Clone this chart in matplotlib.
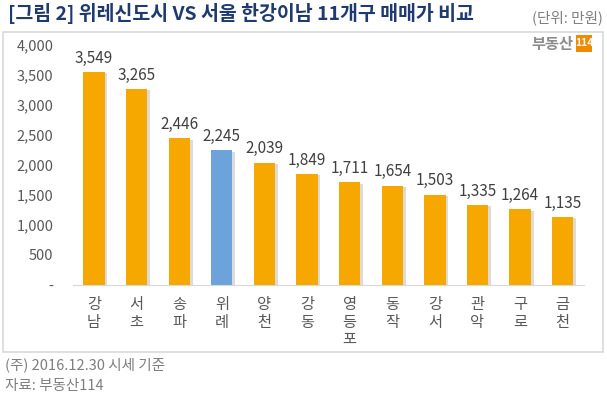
import matplotlib
matplotlib.use("Agg")
import matplotlib.pyplot as plt
from matplotlib.patches import Rectangle
from matplotlib.ticker import FuncFormatter
import matplotlib.patheffects as pe

plt.rcParams['font.family'] = ['Noto Sans CJK KR', 'DejaVu Sans']

districts = ["강남", "서초", "송파", "위례", "양천", "강동", "영등포", "동작", "강서", "관악", "구로", "금천"]
prices = [3549, 3265, 2446, 2245, 2039, 1849, 1711, 1654, 1503, 1335, 1264, 1135]
highlight = "위례"
yticks = [0, 500, 1000, 1500, 2000, 2500, 3000, 3500, 4000]

ORANGE, BLUE = "#F7A800", "#6CA3DA"
GRAY, DARK, NAVY = "#7F7F7F", "#404040", "#1F3A6E"

W, H = 607, 398
fig = plt.figure(figsize=(W / 100, H / 100), dpi=100)
fig.patch.set_facecolor("white")

# outer chart box
fig.add_artist(Rectangle((3 / W, 1 - 352 / H), 600 / W, 320 / H, transform=fig.transFigure,
                         fill=False, edgecolor="#D9D9D9", linewidth=1.2))

ax = fig.add_axes([72.7 / W, 1 - 285 / H, (584 - 72.7) / W, 240 / H])
x = range(len(districts))
colors = [BLUE if d == highlight else ORANGE for d in districts]
bars = ax.bar(x, prices, width=0.5, color=colors, zorder=3)
for b in bars:
    b.set_path_effects([pe.SimplePatchShadow(offset=(2, -1), shadow_rgbFace="#999999", alpha=0.35),
                        pe.Normal()])
for i, v in enumerate(prices):
    ax.text(i, v + 90, f"{v:,}", ha="center", va="bottom", fontsize=11, color=DARK)

ax.set_xlim(-0.5, len(districts) - 0.5)
ax.set_ylim(0, 4000)
ax.set_yticks(yticks)
ax.yaxis.set_major_formatter(FuncFormatter(lambda v, p: "-" if v == 0 else f"{int(v):,}"))
ax.set_xticks(list(x))
ax.set_xticklabels(["\n".join(d) for d in districts], va="top", linespacing=1.05)
ax.tick_params(axis="y", length=0, pad=14, labelsize=10.5, labelcolor="#595959")
ax.tick_params(axis="x", length=0, pad=8, labelsize=11, labelcolor="#595959")
for s in ["top", "right", "left"]:
    ax.spines[s].set_visible(False)
ax.spines["bottom"].set_color("#D9D9D9")

fig.text(8 / W, 1 - 13 / H, "[그림 2] 위레신도시 VS 서울 한강이남 11개구 매매가 비교",
         fontsize=14, fontweight="bold", color=NAVY, va="center", ha="left")
fig.text(603 / W, 1 - 18 / H, "(단위: 만원)", fontsize=10.5, color=GRAY, va="center", ha="right")

# logo
fig.text(573 / W, 1 - 44 / H, "부동산", fontsize=11, fontweight="bold", color="#8C8C8C",
         va="center", ha="right")
fig.add_artist(Rectangle((576 / W, 1 - 52 / H), 16 / W, 17 / H, transform=fig.transFigure,
                         facecolor="#F08A00", edgecolor="none"))
fig.text(584 / W, 1 - 43.5 / H, "114", fontsize=7.5, fontweight="bold", color="white",
         va="center", ha="center")

fig.text(5 / W, 1 - 365 / H, "(주) 2016.12.30 시세 기준", fontsize=10.5, color=GRAY, va="center")
fig.text(5 / W, 1 - 386 / H, "자료: 부동산114", fontsize=10.5, color=GRAY, va="center")

fig.savefig("out.png", dpi=100)
